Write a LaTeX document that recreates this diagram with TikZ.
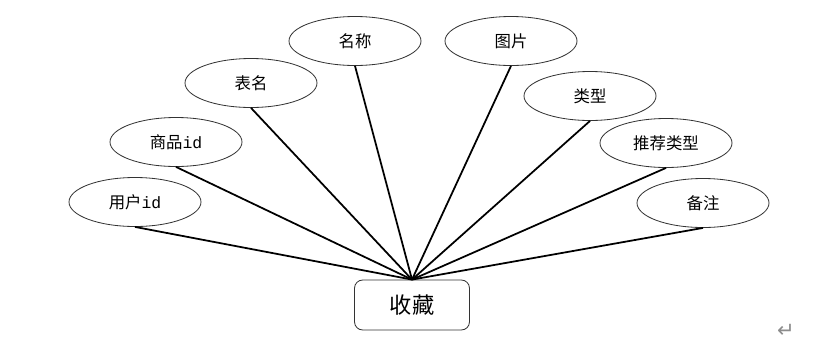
\documentclass[tikz,border=0pt]{standalone}
\usepackage{fontspec}
\setmainfont{Noto Sans CJK SC}
\newfontfamily\symfont{DejaVu Sans}
\newfontfamily\idfont{Liberation Mono}
\usetikzlibrary{shapes.geometric}
\tikzset{
  attr/.style={ellipse,draw=black!80,line width=0.7pt,minimum width=3.96cm,minimum height=1.47cm,inner sep=0pt,font=\fontsize{14}{16}\selectfont},
  entity/.style={rectangle,rounded corners=7pt,draw=black!80,line width=0.7pt,minimum width=3.45cm,minimum height=1.5cm,font=\fontsize{19}{21}\selectfont},
  link/.style={line width=1.5pt}
}
\begin{document}
\begin{tikzpicture}[x=0.03cm,y=-0.03cm]
\useasboundingbox (0,0) rectangle (830,356);

\node[entity] (fav) at (412,305) {收藏};

\node[attr] (uid) at (135,202) {用户{\idfont id}};
\node[attr] (gid) at (176,142) {商品{\idfont id}};
\node[attr] (tab) at (251,83) {表名};
\node[attr] (name) at (355,41) {名称};
\node[attr] (pic) at (511,41) {图片};
\node[attr] (type) at (590,96) {类型};
\node[attr] (rec) at (666,143) {推荐类型};
\node[attr] (memo) at (703,203) {备注};

\foreach \a in {uid,gid,tab,name,pic,type,rec,memo}
  \draw[link] (\a.south) -- (fav.north);

\node[text=black!45,font=\symfont\fontsize{18}{20}\selectfont] (mark) at (786,331) {↵};
\end{tikzpicture}
\end{document}
